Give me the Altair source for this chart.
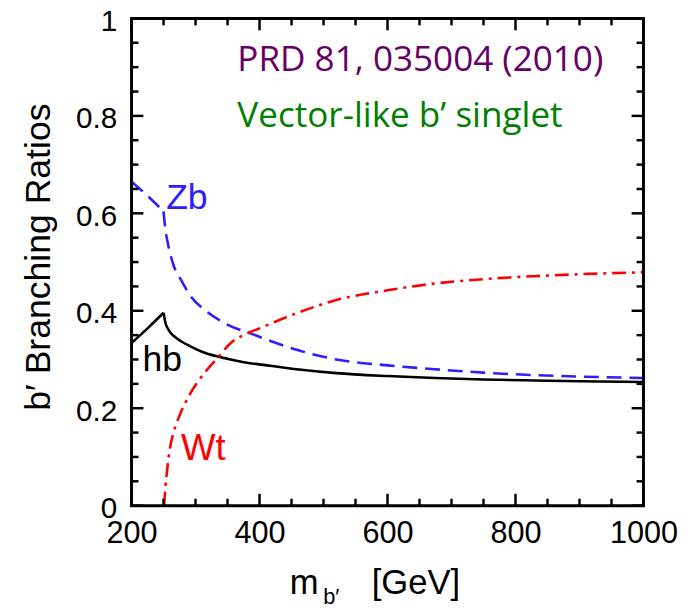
import altair as alt
import pandas as pd

# ---- data ----
zb_mass = [200, 225, 250, 252, 257, 265, 278, 293, 314, 345, 391, 458, 520, 600, 674, 750, 829, 900, 1000]
zb_br = [0.665, 0.636, 0.604, 0.577, 0.537, 0.496, 0.462, 0.429, 0.402, 0.375, 0.351, 0.320, 0.300, 0.288, 0.280, 0.273, 0.268, 0.265, 0.262]

hb_mass = [200, 225, 250, 253, 256, 261, 268, 278, 292, 310, 335, 355, 378, 406, 458, 520, 600, 674, 750, 829, 900, 1000]
hb_br = [0.334, 0.364, 0.396, 0.375, 0.365, 0.355, 0.346, 0.337, 0.327, 0.316, 0.306, 0.300, 0.294, 0.289, 0.280, 0.272, 0.266, 0.262, 0.259, 0.257, 0.2555, 0.254]

wt_mass = [251, 253, 255, 258, 262, 268, 275, 290, 316, 335, 355, 378, 400, 458, 520, 600, 674, 750, 829, 900, 1000]
wt_br = [0.0, 0.040, 0.065, 0.100, 0.131, 0.160, 0.185, 0.226, 0.276, 0.304, 0.334, 0.352, 0.364, 0.395, 0.422, 0.442, 0.456, 0.465, 0.471, 0.475, 0.479]

threshold_mass = 250  # kink of the Zb and hb curves

x_label_values = [200, 400, 600, 800, 1000]
y_label_values = [0, 0.2, 0.4, 0.6, 0.8, 1.0]
x_minor_ticks = [250, 300, 350, 450, 500, 550, 650, 700, 750, 850, 900, 950]
y_minor_ticks = [0.05, 0.1, 0.15, 0.25, 0.3, 0.35, 0.45, 0.5, 0.55, 0.65, 0.7, 0.75, 0.85, 0.9, 0.95]

# ---- layout ----
W, H = 518, 493
xs = alt.Scale(domain=[200, 1000], nice=False, zero=False)
ys = alt.Scale(domain=[0, 1], nice=False, zero=False)
AXFONT = "Liberation Sans"

x_axis = alt.Axis(values=x_label_values, ticks=False, domain=False, grid=False,
                  labelFontSize=31, labelFont=AXFONT, labelColor="black",
                  labelPadding=13, labelFlush=False, labelOverlap=False, title=None,
                  labelExpr="format(datum.value, 'd')")
y_axis = alt.Axis(values=y_label_values, ticks=False, domain=False, grid=False,
                  labelFontSize=30, labelFont=AXFONT, labelColor="black",
                  labelPadding=15, labelFlush=False, labelOverlap=False, title=None,
                  labelOffset=3,
                  labelExpr="datum.value == 0 ? '0' : datum.value == 1 ? '1' : format(datum.value, '.1f')")


def split_at_kink(mass, br, kink):
    rows = []
    for m, b in zip(mass, br):
        if m <= kink:
            rows.append((m, b, 0))
        if m >= kink:
            rows.append((m, b, 1))
    return pd.DataFrame(rows, columns=["m", "br", "seg"])


def curve(df, color, dash=None):
    kw = dict(color=color, strokeWidth=2.6, strokeCap="butt", interpolate="monotone")
    if dash:
        kw["strokeDash"] = dash
    return alt.Chart(df).mark_line(**kw).encode(
        x=alt.X("m:Q", scale=xs, axis=x_axis),
        y=alt.Y("br:Q", scale=ys, axis=y_axis),
        detail="seg:N",
        order="m:Q",
    )


def xticks(vals, length):
    df = pd.DataFrame({"v": vals})
    base = alt.Chart(df).mark_rule(color="black", strokeWidth=2.5)
    bottom = base.encode(x=alt.X("v:Q", scale=xs, axis=x_axis), y=alt.value(H), y2=alt.value(H - length))
    top = base.encode(x=alt.X("v:Q", scale=xs, axis=x_axis), y=alt.value(0), y2=alt.value(length))
    return [bottom, top]


def yticks(vals, length):
    df = pd.DataFrame({"v": vals})
    base = alt.Chart(df).mark_rule(color="black", strokeWidth=2.5)
    left = base.encode(y=alt.Y("v:Q", scale=ys, axis=y_axis), x=alt.value(0), x2=alt.value(length))
    right = base.encode(y=alt.Y("v:Q", scale=ys, axis=y_axis), x=alt.value(W), x2=alt.value(W - length))
    return [left, right]


def label(text, x, y, size, color="black", font=AXFONT, angle=0, align="left"):
    return alt.Chart(pd.DataFrame({"t": [text]})).mark_text(
        font=font, fontSize=size, color=color, align=align, baseline="alphabetic", angle=angle
    ).encode(x=alt.value(x), y=alt.value(y), text="t:N")


frame = alt.Chart(pd.DataFrame({"k": [0]})).mark_rect(
    fill=None, fillOpacity=0, stroke="black", strokeWidth=3
).encode(x=alt.value(0), x2=alt.value(W), y=alt.value(0), y2=alt.value(H))

hb_df = split_at_kink(hb_mass, hb_br, threshold_mass)
zb_df = split_at_kink(zb_mass, zb_br, threshold_mass)
wt_df = pd.DataFrame({"m": wt_mass, "br": wt_br, "seg": 0})

layers = []
layers.append(curve(hb_df, "black"))
layers.append(curve(zb_df, "#2f1cff", dash=[15, 8]))
layers.append(curve(wt_df, "#ff0000", dash=[14, 6, 3, 6]))
layers += xticks(x_label_values, 12) + xticks(x_minor_ticks, 7)
layers += yticks(y_label_values, 12) + yticks(y_minor_ticks, 7)
layers.append(frame)

layers += [
    label("PRD 81, 035004 (2010)", 107, 53, 35.5, "#660066", "Open Sans"),
    label("Vector-like b\u2019 singlet", 107, 110, 35.5, "#008000", "Open Sans"),
    label("Zb", 35, 193, 36, "#2f1cff"),
    label("hb", 11, 357, 36, "black"),
    label("Wt", 50, 447, 37, "#ff0000"),
    label("b\u2032  Branching Ratios", -83, 241.5, 36, "black", angle=270, align="center"),
    label("m", 160, 582, 35),
    label("b\u2032", 194, 592, 22),
    label("[GeV]", 243, 582, 35),
]

chart = alt.layer(*layers).properties(
    width=W, height=H,
    padding={"left": 125, "top": 7, "right": 40, "bottom": 102},
    autosize=alt.AutoSizeParams(type="none"),
).configure_view(stroke=None).configure(background="white")

chart.save("out.html", embed_options={"renderer": "svg", "actions": False})
